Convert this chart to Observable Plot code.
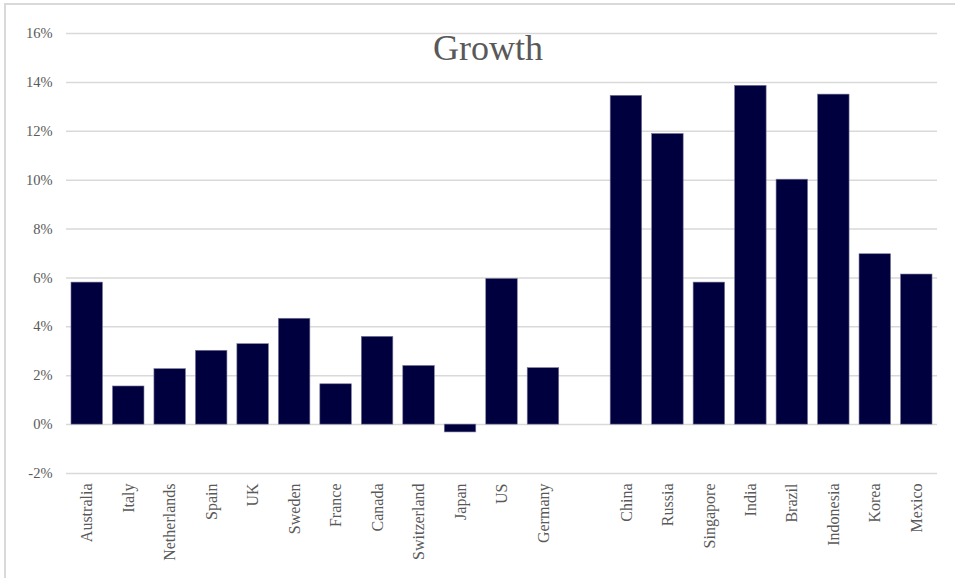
<!DOCTYPE html>
<html>
<head>
<meta charset="utf-8">
<script src="https://cdn.jsdelivr.net/npm/d3@7"></script>
<script src="https://cdn.jsdelivr.net/npm/@observablehq/plot@0.6"></script>
<style>
  html, body { margin: 0; padding: 0; background: #fff; }
  #wrap { position: relative; width: 955px; height: 578px; overflow: hidden; }
  #frame { position: absolute; left: 4px; top: 3px; width: 1000px; height: 700px;
           border-left: 2px solid #d9d9d9; border-top: 2px solid #d9d9d9; pointer-events: none; }
  #chart { position: absolute; left: 0; top: 0; }
</style>
</head>
<body>
<div id="wrap"><div id="chart"></div><div id="frame"></div></div>
<script>
const countries = ["Australia","Italy","Netherlands","Spain","UK","Sweden","France","Canada","Switzerland","Japan","US","Germany",
                   "China","Russia","Singapore","India","Brazil","Indonesia","Korea","Mexico"];
const growth = [5.81,1.56,2.27,3.02,3.29,4.33,1.65,3.59,2.40,-0.32,5.96,2.31,
                13.45,11.89,5.81,13.86,10.02,13.50,6.97,6.14];
const gapKey = "\u2009";
const xDomain = [...countries.slice(0,12), gapKey, ...countries.slice(12)];
const yTicks = [-2,0,2,4,6,8,10,12,14,16];
const title = "Growth";

const data = countries.map((c,i) => ({country: c, value: growth[i]}));
const serif = "'Liberation Serif', 'DejaVu Serif', serif";

const chart = Plot.plot({
  width: 955,
  height: 578,
  marginLeft: 66,
  marginRight: 18,
  marginTop: 33,
  marginBottom: 105,
  style: {fontFamily: serif, color: "#595959", background: "transparent"},
  x: {domain: xDomain, paddingInner: 0.24, paddingOuter: 0.12, round: false, label: null},
  y: {domain: [-2,16], label: null},
  marks: [
    Plot.ruleY(yTicks, {stroke: "#d9d9d9", strokeWidth: 1.5}),
    Plot.barY(data, {x: "country", y: "value", fill: "#00003f", stroke: "#7a7a9a", strokeWidth: 0.6}),
    Plot.axisY({ticks: yTicks, tickFormat: d => d + "%", tickSize: 0, tickPadding: 14,
                fontSize: 14.5, fill: "#595959", label: null}),
    Plot.axisX({tickSize: 0, tickPadding: 10, tickRotate: -90, fontSize: 16, fill: "#595959",
                tickFormat: d => d === gapKey ? "" : d, label: null}),
    Plot.text([title], {frameAnchor: "top", lineAnchor: "top", text: d => d, dx: -14, dy: 1, fontSize: 36,
                        fill: "#595959", fontFamily: serif})
  ]
});
document.getElementById("chart").appendChild(chart);
</script>
</body>
</html>
